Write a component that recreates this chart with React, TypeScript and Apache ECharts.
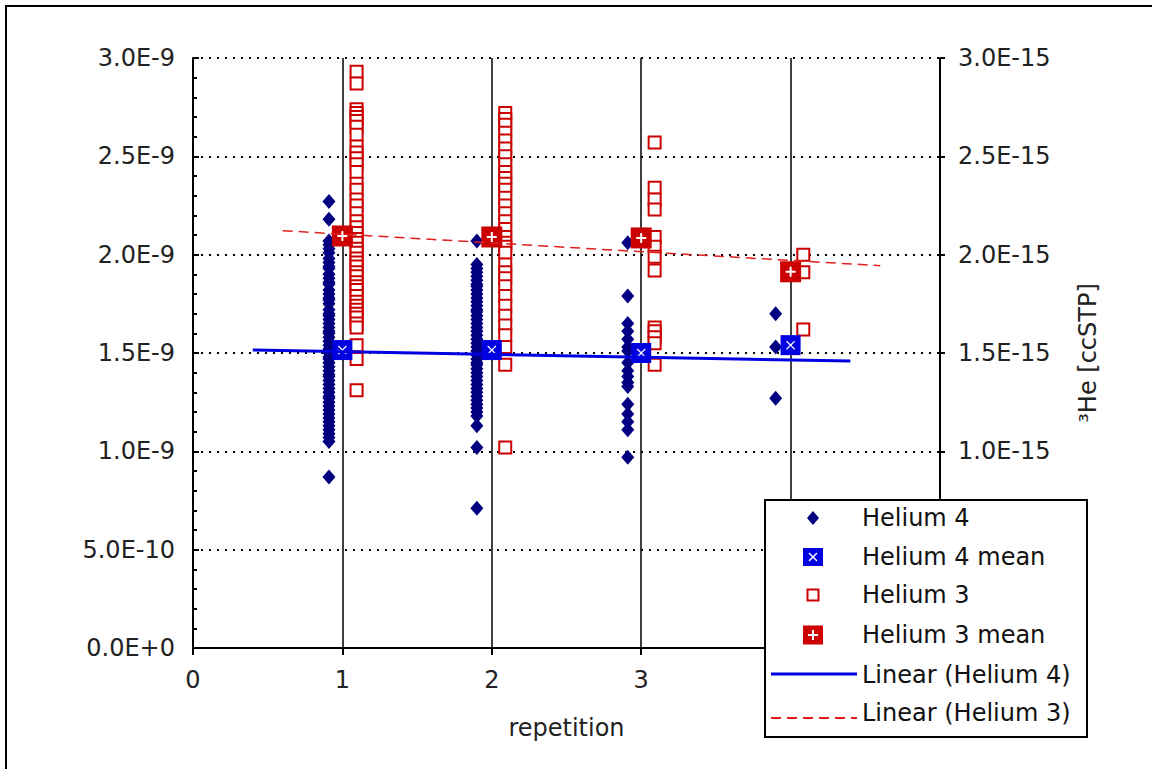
import React, { useEffect, useRef } from "react";
import * as echarts from "echarts";

// Helium 4 values (units of 1E-9 ccSTP), per repetition
const he4Rep1 = [2.27, 2.18, 2.07, 2.05, 2.03, 2.01, 1.98, 1.96, 1.94, 1.93, 1.9, 1.88, 1.86, 1.85, 1.82, 1.8, 1.78, 1.77, 1.75, 1.72, 1.7, 1.69, 1.67, 1.65, 1.63, 1.61, 1.6, 1.58, 1.56, 1.54, 1.52, 1.5, 1.48, 1.47, 1.45, 1.43, 1.41, 1.39, 1.38, 1.36, 1.34, 1.32, 1.3, 1.28, 1.27, 1.25, 1.23, 1.21, 1.19, 1.17, 1.15, 1.13, 1.11, 1.09, 1.07, 1.05, 0.87];
const he4Rep2 = [2.07, 1.95, 1.93, 1.91, 1.89, 1.87, 1.85, 1.84, 1.82, 1.8, 1.78, 1.76, 1.74, 1.72, 1.71, 1.69, 1.67, 1.65, 1.63, 1.61, 1.59, 1.57, 1.55, 1.53, 1.51, 1.49, 1.47, 1.45, 1.44, 1.42, 1.4, 1.38, 1.36, 1.34, 1.32, 1.3, 1.28, 1.26, 1.24, 1.22, 1.2, 1.18, 1.13, 1.02, 0.71];
const he4Rep3 = [2.06, 1.79, 1.65, 1.61, 1.57, 1.53, 1.51, 1.45, 1.41, 1.38, 1.35, 1.33, 1.24, 1.19, 1.15, 1.11, 0.97];
const he4Rep4 = [1.7, 1.53, 1.27];

// Helium 3 values (units of 1E-15 ccSTP), per repetition
const he3Rep1 = [2.93, 2.87, 2.74, 2.72, 2.7, 2.68, 2.65, 2.61, 2.55, 2.52, 2.49, 2.46, 2.42, 2.36, 2.33, 2.28, 2.25, 2.21, 2.17, 2.14, 2.11, 2.08, 2.06, 2.03, 2.01, 1.98, 1.96, 1.94, 1.91, 1.89, 1.86, 1.84, 1.82, 1.79, 1.76, 1.74, 1.72, 1.7, 1.68, 1.65, 1.63, 1.54, 1.47, 1.31];
const he3Rep2 = [2.72, 2.69, 2.66, 2.62, 2.58, 2.54, 2.5, 2.46, 2.42, 2.39, 2.36, 2.33, 2.29, 2.25, 2.21, 2.17, 2.13, 2.09, 2.06, 2.04, 2.01, 1.95, 1.91, 1.88, 1.84, 1.79, 1.74, 1.69, 1.64, 1.59, 1.53, 1.44, 1.02];
const he3Rep3 = [2.57, 2.34, 2.28, 2.23, 2.09, 2.04, 1.99, 1.92, 1.63, 1.61, 1.58, 1.55, 1.44];
const he3Rep4 = [2.0, 1.91, 1.62];

// x positions of the point columns
const he4Columns = [0.91, 1.9, 2.91, 3.9];
const he3Columns = [1.095, 2.09, 3.09, 4.085];

// means per repetition
const repetitions = [1, 2, 3, 4];
const he4Means = [1.515, 1.515, 1.5, 1.54];
const he3Means = [2.095, 2.09, 2.085, 1.913];

// linear trendline endpoints
const he4TrendX = [0.4, 4.4];
const he4TrendY = [1.515, 1.459];
const he3TrendX = [0.6, 4.6];
const he3TrendY = [2.122, 1.944];

// tick labels hidden behind the legend box in the reference
const hiddenXTicks = [4, 5];
const hiddenRightTicks = [0, 0.5];

const FONT = '"DejaVu Sans", sans-serif';
const NAVY = "#000080";
const BLUE = "#0000e0";
const RED = "#cc0000";
const RED_LINE = "#e02020";

const he4Groups = [he4Rep1, he4Rep2, he4Rep3, he4Rep4];
const he3Groups = [he3Rep1, he3Rep2, he3Rep3, he3Rep4];

const fmt = (v: number, scale: number) => (v * scale).toExponential(1).replace("e", "E");

export default function App() {
  const ref = useRef<HTMLDivElement>(null);
  useEffect(() => {
    if (!ref.current) return;
    const chart = echarts.init(ref.current, null, { renderer: "svg" });

    const he4Data: number[][] = [];
    he4Groups.forEach((g, i) => g.forEach((v) => he4Data.push([he4Columns[i], v])));
    const he3Data: number[][] = [];
    he3Groups.forEach((g, i) => g.forEach((v) => he3Data.push([he3Columns[i], v])));
    const he4MeanData = repetitions.map((r, i) => [r, he4Means[i]]);
    const he3MeanData = repetitions.map((r, i) => [r, he3Means[i]]);
    const he4Trend = he4TrendX.map((x, i) => [x, he4TrendY[i]]);
    const he3Trend = he3TrendX.map((x, i) => [x, he3TrendY[i]]);

    const textStyle = (text: string, x: number, y: number) => ({
      type: "text",
      x,
      y,
      z: 101,
      style: { text, font: `24px ${FONT}`, fill: "#111", verticalAlign: "middle", align: "left" },
    });

    const legendX = 813;
    const rows = [518, 557, 595, 635, 675, 713];

    chart.setOption({
      animation: false,
      backgroundColor: "#fff",
      grid: { left: 193, top: 58, right: 212, bottom: 121, containLabel: false },
      xAxis: {
        type: "value",
        min: 0,
        max: 5,
        interval: 1,
        name: "repetition",
        nameLocation: "middle",
        nameGap: 68,
        nameTextStyle: { fontFamily: FONT, fontSize: 24, color: "#222" },
        axisLine: { lineStyle: { color: "#000", width: 2 } },
        axisTick: { show: true, length: 7, lineStyle: { color: "#000", width: 2 } },
        axisLabel: {
          fontFamily: FONT,
          fontSize: 24,
          color: "#222",
          margin: 20,
          formatter: (v: number) => (hiddenXTicks.includes(v) ? "" : String(v)),
        },
        splitLine: { show: true, lineStyle: { color: "#000", width: 1.5, type: "solid" } },
      },
      yAxis: [
        {
          type: "value",
          min: 0,
          max: 3,
          interval: 0.5,
          position: "left",
          axisLine: { show: true, lineStyle: { color: "#000", width: 2 } },
          axisTick: { show: true, inside: true, length: 6, lineStyle: { color: "#000", width: 2 } },
          minorTick: { show: true, splitNumber: 5, length: 4, lineStyle: { color: "#000", width: 2 } },
          axisLabel: { fontFamily: FONT, fontSize: 24, color: "#222", margin: 18, formatter: (v: number) => fmt(v, 1e-9) },
          splitLine: { show: true, lineStyle: { color: "#000", width: 2, type: [2, 6] } },
        },
        {
          type: "value",
          min: 0,
          max: 3,
          interval: 0.5,
          position: "right",
          name: "³He [ccSTP]",
          nameLocation: "middle",
          nameRotate: 90,
          nameGap: 136,
          nameTextStyle: { fontFamily: FONT, fontSize: 24, color: "#222" },
          axisLine: { show: true, lineStyle: { color: "#000", width: 2 } },
          axisTick: { show: true, length: 5, lineStyle: { color: "#000", width: 2 } },
          axisLabel: {
            fontFamily: FONT,
            fontSize: 24,
            color: "#222",
            margin: 18,
            formatter: (v: number) => (hiddenRightTicks.includes(v) ? "" : fmt(v, 1e-15)),
          },
          splitLine: { show: false },
        },
      ],
      series: [
        {
          name: "Helium 4",
          type: "scatter",
          yAxisIndex: 0,
          symbol: "diamond",
          symbolSize: [13, 15],
          itemStyle: { color: NAVY, opacity: 1 },
          data: he4Data,
          silent: true,
        },
        {
          name: "Helium 3",
          type: "scatter",
          yAxisIndex: 1,
          symbol: "rect",
          symbolSize: 12,
          itemStyle: { color: "#fff", borderColor: RED, borderWidth: 2, opacity: 1 },
          data: he3Data,
          silent: true,
        },
        {
          name: "Helium 4 mean",
          type: "scatter",
          yAxisIndex: 0,
          symbol: "rect",
          symbolSize: 20,
          itemStyle: { color: BLUE, opacity: 1 },
          data: he4MeanData,
          silent: true,
        },
        {
          name: "Helium 4 mean mark",
          type: "scatter",
          yAxisIndex: 0,
          symbol: "path://M0,1 L1,0 L5,4 L9,0 L10,1 L6,5 L10,9 L9,10 L5,6 L1,10 L0,9 L4,5 Z",
          symbolSize: 9,
          itemStyle: { color: "#fff", opacity: 1 },
          data: he4MeanData,
          silent: true,
        },
        {
          name: "Helium 3 mean",
          type: "scatter",
          yAxisIndex: 1,
          symbol: "rect",
          symbolSize: 21,
          itemStyle: { color: RED, opacity: 1 },
          data: he3MeanData,
          silent: true,
        },
        {
          name: "Helium 3 mean mark",
          type: "scatter",
          yAxisIndex: 1,
          symbol: "path://M4,0 H6 V4 H10 V6 H6 V10 H4 V6 H0 V4 H4 Z",
          symbolSize: 10,
          itemStyle: { color: "#fff", opacity: 1 },
          data: he3MeanData,
          silent: true,
        },
        {
          name: "Linear (Helium 4)",
          type: "line",
          yAxisIndex: 0,
          symbol: "none",
          lineStyle: { color: BLUE, width: 3 },
          data: he4Trend,
          silent: true,
        },
        {
          name: "Linear (Helium 3)",
          type: "line",
          yAxisIndex: 1,
          symbol: "none",
          lineStyle: { color: RED_LINE, width: 1.5, type: [10, 6] },
          data: he3Trend,
          silent: true,
        },
      ],
      graphic: [
        {
          type: "rect",
          z: 100,
          shape: { x: 6, y: 6, width: 1300, height: 1000 },
          style: { fill: "none", stroke: "#000", lineWidth: 2 },
        },
        {
          type: "rect",
          z: 100,
          shape: { x: 765, y: 500, width: 322, height: 237 },
          style: { fill: "#fff", stroke: "#000", lineWidth: 2 },
        },
        {
          type: "polygon",
          z: 101,
          shape: { points: [[legendX, rows[0] - 7], [legendX + 6, rows[0]], [legendX, rows[0] + 7], [legendX - 6, rows[0]]] },
          style: { fill: NAVY },
        },
        textStyle("Helium 4", 862, rows[0]),
        {
          type: "rect",
          z: 101,
          shape: { x: legendX - 10, y: rows[1] - 9, width: 20, height: 18 },
          style: { fill: BLUE },
        },
        {
          type: "line",
          z: 102,
          shape: { x1: legendX - 4, y1: rows[1] - 4, x2: legendX + 4, y2: rows[1] + 4 },
          style: { stroke: "#fff", lineWidth: 1.5 },
        },
        {
          type: "line",
          z: 102,
          shape: { x1: legendX + 4, y1: rows[1] - 4, x2: legendX - 4, y2: rows[1] + 4 },
          style: { stroke: "#fff", lineWidth: 1.5 },
        },
        textStyle("Helium 4 mean", 862, rows[1]),
        {
          type: "rect",
          z: 101,
          shape: { x: legendX - 5.5, y: rows[2] - 5.5, width: 11, height: 11 },
          style: { fill: "#fff", stroke: RED, lineWidth: 2 },
        },
        textStyle("Helium 3", 862, rows[2]),
        {
          type: "rect",
          z: 101,
          shape: { x: legendX - 10, y: rows[3] - 9.5, width: 20, height: 19 },
          style: { fill: RED },
        },
        {
          type: "line",
          z: 102,
          shape: { x1: legendX, y1: rows[3] - 5, x2: legendX, y2: rows[3] + 5 },
          style: { stroke: "#fff", lineWidth: 2 },
        },
        {
          type: "line",
          z: 102,
          shape: { x1: legendX - 5, y1: rows[3], x2: legendX + 5, y2: rows[3] },
          style: { stroke: "#fff", lineWidth: 2 },
        },
        textStyle("Helium 3 mean", 862, rows[3]),
        {
          type: "line",
          z: 101,
          shape: { x1: 771, y1: rows[4] - 1, x2: 857, y2: rows[4] - 1 },
          style: { stroke: BLUE, lineWidth: 3 },
        },
        textStyle("Linear (Helium 4)", 862, rows[4]),
        {
          type: "line",
          z: 101,
          shape: { x1: 771, y1: rows[5] + 5, x2: 857, y2: rows[5] + 5 },
          style: { stroke: RED_LINE, lineWidth: 2, lineDash: [10, 6] },
        },
        textStyle("Linear (Helium 3)", 862, rows[5]),
      ],
    });
    return () => chart.dispose();
  }, []);

  return (
    <div
      ref={ref}
      style={{ position: "absolute", left: 0, top: 0, width: 1152, height: 769, background: "#fff" }}
    />
  );
}
